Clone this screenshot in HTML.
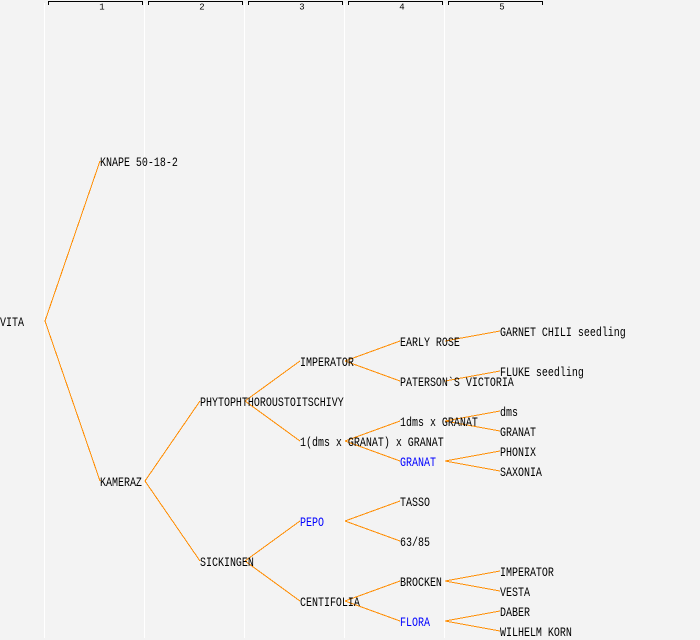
<!DOCTYPE html>
<html><head><meta charset="utf-8"><style>
html,body{margin:0;padding:0;background:#f3f3f3;}
svg{display:block;}
.t{font-family:"Liberation Mono",monospace;font-size:12.5px;fill:#000;}
.b{fill:#0000ff;}
.h{font-family:"Liberation Mono",monospace;font-size:9px;fill:#000;}
</style></head><body>
<svg width="700" height="640" viewBox="0 0 700 640" xmlns="http://www.w3.org/2000/svg">
<rect width="700" height="640" fill="#f3f3f3"/>
<g stroke="#ffffff" stroke-width="1" shape-rendering="crispEdges">
<line x1="44.5" y1="3" x2="44.5" y2="638"/>
<line x1="144.5" y1="3" x2="144.5" y2="638"/>
<line x1="244.5" y1="3" x2="244.5" y2="638"/>
<line x1="344.5" y1="3" x2="344.5" y2="638"/>
<line x1="444.5" y1="3" x2="444.5" y2="638"/>
</g>
<g fill="none" stroke="#000" stroke-width="1" shape-rendering="crispEdges">
<polyline points="48.5,5 48.5,1.5 142.5,1.5 142.5,5"/>
<polyline points="148.5,5 148.5,1.5 242.5,1.5 242.5,5"/>
<polyline points="248.5,5 248.5,1.5 342.5,1.5 342.5,5"/>
<polyline points="348.5,5 348.5,1.5 442.5,1.5 442.5,5"/>
<polyline points="448.5,5 448.5,1.5 542.5,1.5 542.5,5"/>
</g>
<g class="h" text-anchor="middle">
<text x="102" y="9.5">1</text>
<text x="202" y="9.5">2</text>
<text x="302" y="9.5">3</text>
<text x="402" y="9.5">4</text>
<text x="502" y="9.5">5</text>
</g>
<g stroke="#ff8c00" stroke-width="1" fill="none" shape-rendering="crispEdges">
<line x1="45" y1="321" x2="100" y2="161"/>
<line x1="45" y1="321" x2="100" y2="481"/>
<line x1="145" y1="481" x2="200" y2="401"/>
<line x1="145" y1="481" x2="200" y2="561"/>
<line x1="245" y1="401" x2="300" y2="361"/>
<line x1="245" y1="401" x2="300" y2="441"/>
<line x1="245" y1="561" x2="300" y2="521"/>
<line x1="245" y1="561" x2="300" y2="601"/>
<line x1="345" y1="361" x2="400" y2="341"/>
<line x1="345" y1="361" x2="400" y2="381"/>
<line x1="345" y1="441" x2="400" y2="421"/>
<line x1="345" y1="441" x2="400" y2="461"/>
<line x1="345" y1="521" x2="400" y2="501"/>
<line x1="345" y1="521" x2="400" y2="541"/>
<line x1="345" y1="601" x2="400" y2="581"/>
<line x1="345" y1="601" x2="400" y2="621"/>
<line x1="445" y1="341" x2="500" y2="331"/>
<line x1="445" y1="381" x2="500" y2="371"/>
<line x1="445" y1="421" x2="500" y2="411"/>
<line x1="445" y1="421" x2="500" y2="431"/>
<line x1="445" y1="461" x2="500" y2="451"/>
<line x1="445" y1="461" x2="500" y2="471"/>
<line x1="445" y1="581" x2="500" y2="571"/>
<line x1="445" y1="581" x2="500" y2="591"/>
<line x1="445" y1="621" x2="500" y2="611"/>
<line x1="445" y1="621" x2="500" y2="631"/>
</g>
<g class="t">
<text transform="translate(0,326) scale(0.8,1)">VITA</text>
<text transform="translate(100,166) scale(0.8,1)">KNAPE 50-18-2</text>
<text transform="translate(100,486) scale(0.8,1)">KAMERAZ</text>
<text transform="translate(200,406) scale(0.8,1)">PHYTOPHTHOROUSTOITSCHIVY</text>
<text transform="translate(200,566) scale(0.8,1)">SICKINGEN</text>
<text transform="translate(300,366) scale(0.8,1)">IMPERATOR</text>
<text transform="translate(300,446) scale(0.8,1)">1(dms x GRANAT) x GRANAT</text>
<text class="b" transform="translate(300,526) scale(0.8,1)">PEPO</text>
<text transform="translate(300,606) scale(0.8,1)">CENTIFOLIA</text>
<text transform="translate(400,346) scale(0.8,1)">EARLY ROSE</text>
<text transform="translate(400,386) scale(0.8,1)">PATERSON`S VICTORIA</text>
<text transform="translate(400,426) scale(0.8,1)">1dms x GRANAT</text>
<text class="b" transform="translate(400,466) scale(0.8,1)">GRANAT</text>
<text transform="translate(400,506) scale(0.8,1)">TASSO</text>
<text transform="translate(400,546) scale(0.8,1)">63/85</text>
<text transform="translate(400,586) scale(0.8,1)">BROCKEN</text>
<text class="b" transform="translate(400,626) scale(0.8,1)">FLORA</text>
<text transform="translate(500,336) scale(0.8,1)">GARNET CHILI seedling</text>
<text transform="translate(500,376) scale(0.8,1)">FLUKE seedling</text>
<text transform="translate(500,416) scale(0.8,1)">dms</text>
<text transform="translate(500,436) scale(0.8,1)">GRANAT</text>
<text transform="translate(500,456) scale(0.8,1)">PHONIX</text>
<text transform="translate(500,476) scale(0.8,1)">SAXONIA</text>
<text transform="translate(500,576) scale(0.8,1)">IMPERATOR</text>
<text transform="translate(500,596) scale(0.8,1)">VESTA</text>
<text transform="translate(500,616) scale(0.8,1)">DABER</text>
<text transform="translate(500,636) scale(0.8,1)">WILHELM KORN</text>
</g>
</svg>
</body></html>
